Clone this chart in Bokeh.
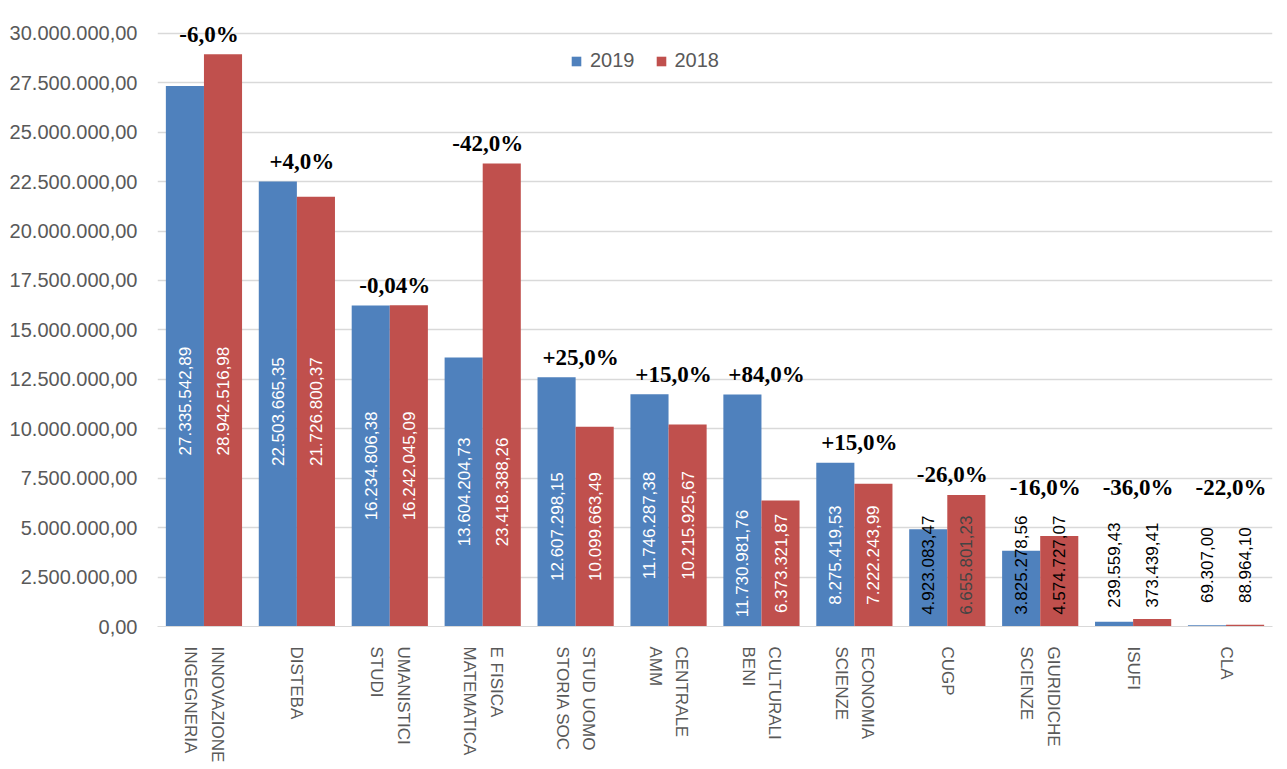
from math import pi
from bokeh.plotting import figure
from bokeh.models import ColumnDataSource, FactorRange, Range1d, FixedTicker, CustomJSTickFormatter
from bokeh.transform import dodge
from bokeh.core.properties import value
from bokeh.embed import file_html
from bokeh.resources import INLINE

# ---------------- data ----------------
categories = [
    "INGEGNERIA\nINNOVAZIONE", "DISTEBA", "STUDI\nUMANISTICI", "MATEMATICA\nE FISICA",
    "STORIA SOC\nSTUD UOMO", "AMM\nCENTRALE", "BENI\nCULTURALI", "SCIENZE\nECONOMIA",
    "CUGP", "SCIENZE\nGIURIDICHE", "ISUFI", "CLA",
]
values_2019 = [27335542.89, 22503665.35, 16234806.38, 13604204.73, 12607298.15, 11746287.38,
               11730981.76, 8275419.53, 4923083.47, 3825278.56, 239559.43, 69307.00]
values_2018 = [28942516.98, 21726800.37, 16242045.09, 23418388.26, 10099663.49, 10215925.67,
               6373321.87, 7222243.99, 6655801.23, 4574727.07, 373439.41, 88964.10]
pct_labels = ["-6,0%", "+4,0%", "-0,04%", "-42,0%", "+25,0%", "+15,0%",
              "+84,0%", "+15,0%", "-26,0%", "-16,0%", "-36,0%", "-22,0%"]
y_ticks = [i * 2_500_000 for i in range(13)]

# ---------------- styles ----------------
BLUE = "#4F81BD"
RED = "#C0504D"
GRID = "#D9D9D9"
AXIS_TXT = "#595959"
label_colors_2019 = ["white"] * 8 + ["black"] * 4
label_colors_2018 = ["white"] * 8 + ["#444444"] + ["black"] * 3


def fmt_it(v):
    s = f"{v:,.2f}"
    return s.replace(",", "X").replace(".", ",").replace("X", ".")


lab_y = [min(max(min(a, b) / 2, 3.1e6), 11.4e6) for a, b in zip(values_2019, values_2018)]
pct_y = [max(a, b, 6.0e6) for a, b in zip(values_2019, values_2018)]

src = ColumnDataSource(dict(
    cat=categories,
    v19=values_2019,
    v18=values_2018,
    t19=[fmt_it(v) for v in values_2019],
    t18=[fmt_it(v) for v in values_2018],
    c19=label_colors_2019,
    c18=label_colors_2018,
    ylab=lab_y,
    pct=pct_labels,
    ypct=pct_y,
))

p = figure(
    width=1279, height=765,
    x_range=FactorRange(factors=categories, range_padding=0),
    y_range=Range1d(0, 31_000_000),
    output_backend="svg", toolbar_location=None,
    min_border_left=157, min_border_right=7, min_border_top=13, min_border_bottom=131,
)
p.outline_line_color = None
p.background_fill_color = "white"

p.vbar(x=dodge("cat", -0.205, range=p.x_range), top="v19", width=0.41, source=src,
       fill_color=BLUE, line_color=None, legend_label="2019")
p.vbar(x=dodge("cat", 0.205, range=p.x_range), top="v18", width=0.41, source=src,
       fill_color=RED, line_color=None, legend_label="2018")

p.text(x=dodge("cat", -0.205, range=p.x_range), y="ylab", text="t19", source=src,
       angle=pi / 2, text_align="center", text_baseline="middle", text_color="c19",
       text_font=value("Liberation Sans"), text_font_size="17px")
p.text(x=dodge("cat", 0.205, range=p.x_range), y="ylab", text="t18", source=src,
       angle=pi / 2, text_align="center", text_baseline="middle", text_color="c18",
       text_font=value("Liberation Sans"), text_font_size="17px")

p.text(x="cat", y="ypct", text="pct", source=src, y_offset=-20, x_offset=5,
       text_align="center", text_baseline="middle", text_color="black",
       text_font=value("Liberation Serif"), text_font_style="bold", text_font_size="23px")

# axes
p.yaxis.ticker = FixedTicker(ticks=y_ticks)
p.yaxis.major_label_overrides = {t: fmt_it(t) for t in y_ticks}
p.yaxis.axis_line_color = None
p.yaxis.major_tick_line_color = None
p.yaxis.minor_tick_line_color = None
p.yaxis.major_label_text_color = AXIS_TXT
p.yaxis.major_label_text_font = "Liberation Sans"
p.yaxis.major_label_text_font_size = "20px"
p.yaxis.major_label_standoff = 14

p.xaxis.axis_line_color = GRID
p.xaxis.axis_line_width = 1
p.xaxis.major_tick_line_color = None
p.xaxis.minor_tick_line_color = None
p.xaxis.major_label_orientation = "vertical"
# rotated multi-line tick labels are stacked in reverse; flip them so the first
# line shows on the left, as in the original chart
p.xaxis.formatter = CustomJSTickFormatter(code="return String(tick).split('\\n').reverse().join('\\n');")
p.xaxis.major_label_text_color = AXIS_TXT
p.xaxis.major_label_text_font = "Liberation Sans"
p.xaxis.major_label_text_font_size = "17px"
p.xaxis.major_label_text_line_height = 1.4
p.xaxis.major_label_standoff = 14

p.ygrid.grid_line_color = GRID
p.ygrid.grid_line_width = 1.5
p.xgrid.grid_line_color = None

# legend
lg = p.legend[0]
lg.orientation = "horizontal"
lg.location = (413, 554)
lg.padding = 0
lg.margin = 0
lg.border_line_color = None
lg.background_fill_alpha = 0
lg.glyph_width = 12
lg.glyph_height = 12
lg.label_standoff = 8
lg.spacing = 20
lg.label_text_font = "Liberation Sans"
lg.label_text_font_size = "20px"
lg.label_text_color = AXIS_TXT

open("out.html", "w").write(file_html(p, INLINE))
